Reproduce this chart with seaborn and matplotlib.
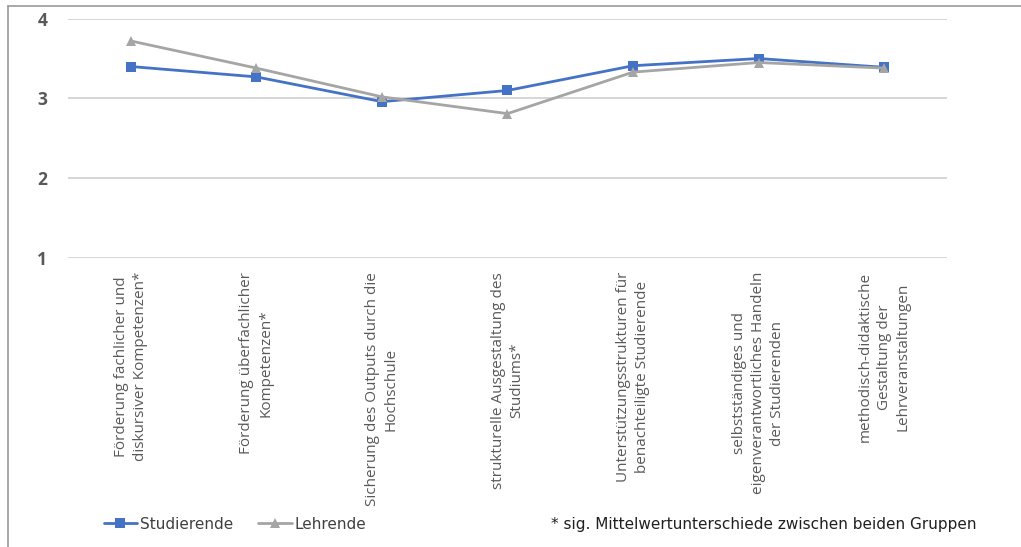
import matplotlib.pyplot as plt
import pandas as pd
import seaborn as sns
from matplotlib.lines import Line2D

categories = [
    'Förderung fachlicher und\ndiskursiver Kompetenzen*',
    'Förderung überfachlicher\nKompetenzen*',
    'Sicherung des Outputs durch die\nHochschule',
    'strukturelle Ausgestaltung des\nStudiums*',
    'Unterstützungsstrukturen für\nbenachteiligte Studierende',
    'selbstständiges und\neigenverantwortliches Handeln\nder Studierenden',
    'methodisch-didaktische\nGestaltung der\nLehrveranstaltungen',
]
studierende = [3.40, 3.27, 2.96, 3.10, 3.41, 3.50, 3.39]
lehrende = [3.72, 3.38, 3.02, 2.81, 3.33, 3.45, 3.38]
y_ticks = [1, 2, 3, 4]
footnote = '* sig. Mittelwertunterschiede zwischen beiden Gruppen'

df = pd.DataFrame({
    'Kategorie': categories * 2,
    'Wert': studierende + lehrende,
    'Gruppe': ['Studierende'] * 7 + ['Lehrende'] * 7,
})

sns.set_style('white')
plt.rcParams['font.family'] = ['Open Sans', 'DejaVu Sans']

fig = plt.figure(figsize=(10.21, 5.47), dpi=100)
ax = fig.add_axes([0.0666, 0.528, 0.8609, 0.438])

palette = {'Studierende': '#4472C4', 'Lehrende': '#A5A5A5'}
sns.lineplot(data=df, x='Kategorie', y='Wert', hue='Gruppe', style='Gruppe',
             markers={'Studierende': 's', 'Lehrende': '^'}, dashes=False,
             palette=palette, hue_order=['Studierende', 'Lehrende'],
             linewidth=2, markersize=7, markeredgewidth=0, sort=False, ax=ax)

ax.set_ylim(1, 4)
ax.set_xlim(-0.5, len(categories) - 0.5)
ax.set_yticks(y_ticks)
ax.set_yticklabels([str(t) for t in y_ticks], fontsize=12.5, fontweight='bold', color='#595959')
ax.tick_params(axis='y', length=0, pad=15)
ax.tick_params(axis='x', length=0, pad=10)
ax.set_xticks(range(len(categories)))
ax.set_xticklabels(categories, rotation=90, fontsize=11, color='#595959',
                   va='top', ha='center', multialignment='center', linespacing=1.35)
ax.grid(axis='y', color='#D0D0D0', linewidth=1.2)
ax.set_axisbelow(True)
for s in ax.spines.values():
    s.set_visible(False)
ax.set_xlabel('')
ax.set_ylabel('')

handles, labels = ax.get_legend_handles_labels()
ax.legend_.remove()
fig.legend(handles, labels, loc='center left', bbox_to_anchor=(0.088, 0.042),
           ncol=2, frameon=False, handlelength=2.2,
           handletextpad=0.2, columnspacing=1.6, labelcolor='#404040',
           prop={'family': ['Liberation Sans Narrow', 'DejaVu Sans'], 'size': 11})

fig.text(0.54, 0.042, footnote, fontsize=11, color='#202020', va='center',
         family=['Liberation Sans Narrow', 'DejaVu Sans'])

# outer frame (top and left edges visible in the crop)
fig.add_artist(Line2D([8 / 1021, 1], [1 - 6 / 547, 1 - 6 / 547], color='#999999', lw=1.2))
fig.add_artist(Line2D([8 / 1021, 8 / 1021], [0, 1 - 6 / 547], color='#999999', lw=1.2))

fig.savefig('out.png', dpi=100)
